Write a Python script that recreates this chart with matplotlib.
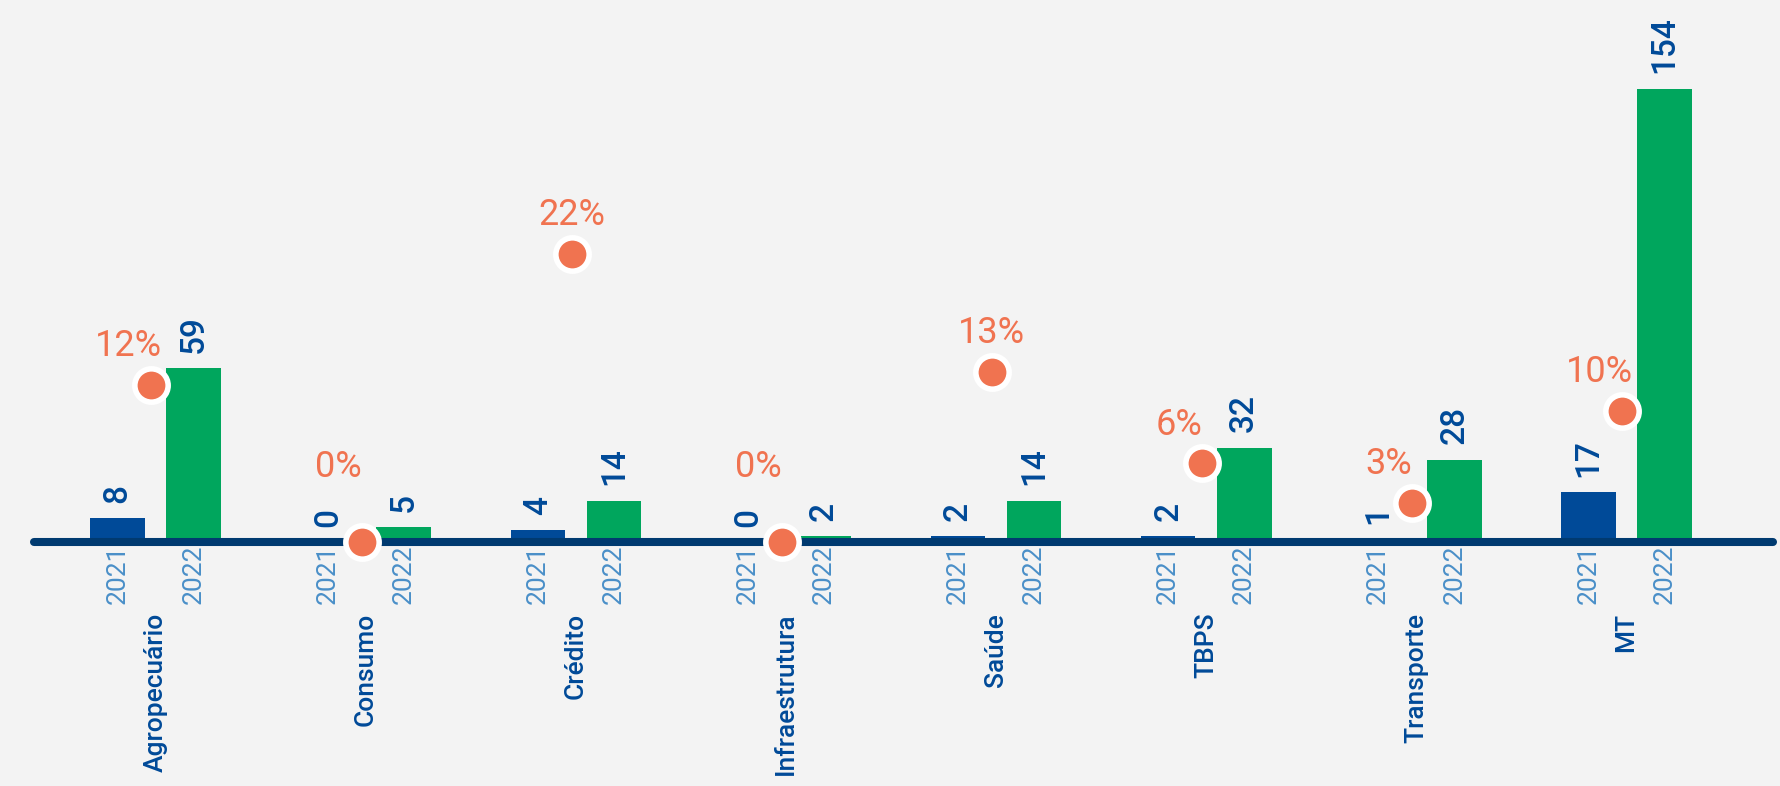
import numpy as np
import matplotlib.pyplot as plt

# data
categories = ['Agropecuário', 'Consumo', 'Crédito', 'Infraestrutura',
              'Saúde', 'TBPS', 'Transporte', 'MT']
v2021 = [8, 0, 4, 0, 2, 2, 1, 17]
v2022 = [59, 5, 14, 2, 14, 32, 28, 154]
pct = [12, 0, 22, 0, 13, 6, 3, 10]
years = ['2021', '2022']

bg = '#f3f3f3'
c_2021 = '#004a98'
c_2022 = '#00a65d'
c_line = '#003a70'
c_pct = '#f07350'
c_year = '#4a8fc8'
c_text = '#004a98'

fig = plt.figure(figsize=(17.81, 7.86), dpi=100, facecolor=bg)
ax = fig.add_axes([0, 0, 1, 1])
ax.set_facecolor(bg)

x = np.arange(len(categories))
w = 0.26
off = 0.181

ax.bar(x - off, v2021, width=w, color=c_2021, zorder=2)
ax.bar(x + off, v2022, width=w, color=c_2022, zorder=2)
ax.plot([-0.58, len(x) - 1 + 0.70], [0, 0], color=c_line, lw=5.8,
        solid_capstyle='round', zorder=3)

ax.set_xlim(-0.741, 7.736)
ax.set_ylim(-82.9, 184.1)
ax.axis('off')

lab_font = dict(family=['Roboto', 'DejaVu Sans'], weight='medium')
year_font = dict(family=['Liberation Sans Narrow', 'Roboto', 'DejaVu Sans'])

for xi, a, b in zip(x, v2021, v2022):
    for xx, v in ((xi - off, a), (xi + off, b)):
        ax.annotate(str(v), (xx, v), xytext=(0, 11), textcoords='offset points',
                    rotation=90, ha='center', va='bottom', fontsize=24,
                    color=c_text, zorder=5, **lab_font)
    for xx, yr in zip((xi - off, xi + off), years):
        ax.annotate(yr, (xx, 0), xytext=(0, -2), textcoords='offset points',
                    rotation=90, ha='center', va='top', fontsize=19,
                    color=c_year, **year_font)

for xi, cat in zip(x, categories):
    ax.annotate(cat, (xi, 0), xytext=(0, -51), textcoords='offset points',
                rotation=90, ha='center', va='top', fontsize=19,
                color=c_text, **lab_font)

# percentages on a second scale
ax2 = ax.twinx()
ax2.set_ylim(-18.63, 41.37)
ax2.axis('off')
ax2.plot(x - 0.02, pct, ls='none', marker='o', ms=24, mfc=c_pct, mec='white',
         mew=4, zorder=4, clip_on=False)

px_bar = 2.944  # px per bar unit
px_pct = 13.1   # px per percent
for xi, p, b in zip(x, pct, v2022):
    dx = -16.5 if b * px_bar > p * px_pct else 0
    dy = 41 if p == 0 else 15
    ax2.annotate(f'{p}%', (xi - 0.02, p), xytext=(dx, dy), textcoords='offset points',
                 ha='center', va='bottom', fontsize=26, color=c_pct,
                 family=['Roboto', 'DejaVu Sans'], zorder=6)

fig.savefig('out.png', dpi=100, facecolor=bg)
